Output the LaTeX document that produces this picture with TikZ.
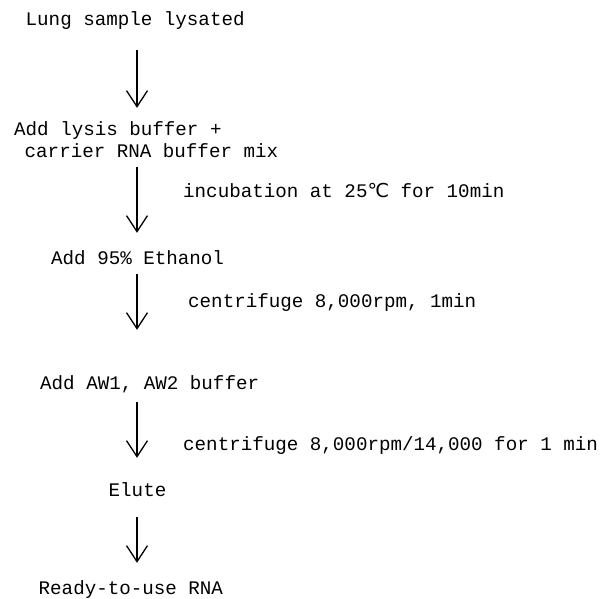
\documentclass[tikz,border=0pt]{standalone}
\usepackage{fontspec}
\setmainfont{Liberation Mono}
\newfontfamily\symfont{DejaVu Sans}
\usetikzlibrary{arrows.meta}
\tikzset{
  txt/.style={anchor=base west, inner sep=0pt, text height=13pt, text depth=4pt, font=\fontsize{19.2}{22}\selectfont},
  flowarrow/.style={line width=1.3pt, -{Straight Barb[length=16pt,width=21pt,line width=1.3pt]}}
}
\begin{document}
\begin{tikzpicture}[x=1pt,y=1pt]
\useasboundingbox (0,0) rectangle (603,598);
\coordinate (ax) at (137,0);
% steps
\node[txt] (lung)   at (25.5,598-26)  {Lung sample lysated};
\node[txt] (lysis)  at (14,598-136)   {Add lysis buffer +};
\node[txt] (carrier) at (24.5,598-158) {carrier RNA buffer mix};
\node[txt] (eth)    at (51,598-265)   {Add 95\% Ethanol};
\node[txt] (aw)     at (40,598-390)   {Add AW1, AW2 buffer};
\node[txt] (elute)  at (108.5,598-496) {Elute};
\node[txt] (ready)  at (38.5,598-594) {Ready-to-use RNA};
% conditions
\node[txt] (inc)    at (183,598-198)  {incubation at 25{\symfont ℃} for 10min};
\node[txt] (cen1)   at (188,598-308)  {centrifuge 8,000rpm, 1min};
\node[txt] (cen2)   at (183,598-450)  {centrifuge 8,000rpm/14,000 for 1 min};
% arrows
\draw[flowarrow, shorten <=20pt, shorten >=15pt] (lung.south -| ax) -- (lysis.north -| ax);
\draw[flowarrow, shorten <=5pt, shorten >=19pt] (carrier.south -| ax) -- (eth.north -| ax);
\draw[flowarrow, shorten <=5pt, shorten >=47pt] (eth.south -| ax) -- (aw.north -| ax);
\draw[flowarrow, shorten <=8pt, shorten >=25pt] (aw.south -| ax) -- (elute.north -| ax);
\draw[flowarrow, shorten <=17pt, shorten >=18pt] (elute.south -| ax) -- (ready.north -| ax);
\end{tikzpicture}
\end{document}
